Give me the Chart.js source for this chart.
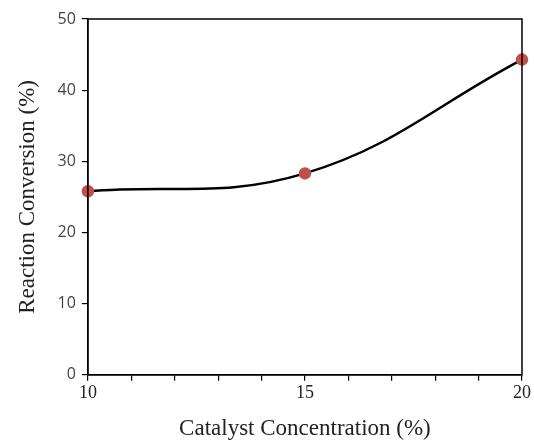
<!DOCTYPE html>
<html>
<head>
<meta charset="utf-8">
<script src="https://cdn.jsdelivr.net/npm/chart.js@4"></script>
<style>
  html, body { margin: 0; padding: 0; background: #fff; }
  #wrap { width: 534px; height: 443px; }
</style>
</head>
<body>
<div id="wrap"><canvas id="conversionChart"></canvas></div>
<script>
// data
const catalystConc = [10, 15, 20];
const conversion = [25.8, 28.3, 44.3];
const xLabelTicks = [10, 15, 20];

// thin box round the plot area, like the original
const frameBox = {
  id: 'frameBox',
  afterDraw(chart) {
    const { ctx, chartArea } = chart;
    ctx.save();
    ctx.strokeStyle = '#000';
    ctx.lineWidth = 1.5;
    ctx.strokeRect(chartArea.left, chartArea.top, chartArea.right - chartArea.left, chartArea.bottom - chartArea.top);
    ctx.restore();
  }
};

new Chart(document.getElementById('conversionChart'), {
  type: 'scatter',
  data: {
    datasets: [{
      data: catalystConc.map((x, i) => ({ x: x, y: conversion[i] })),
      showLine: true,
      borderColor: '#000',
      borderWidth: 2.5,
      tension: 0.4,
      pointBackgroundColor: '#C0504D',
      pointBorderColor: '#C0504D',
      pointRadius: 5,
      clip: false
    }]
  },
  options: {
    responsive: true,
    maintainAspectRatio: false,
    animation: false,
    layout: { padding: { top: 19, right: 12, left: 10, bottom: 0 } },
    plugins: { legend: { display: false }, tooltip: { enabled: false } },
    scales: {
      x: {
        type: 'linear',
        min: 10,
        max: 20,
        grid: { drawOnChartArea: false, color: '#000', tickLength: 6, lineWidth: 1.2 },
        border: { color: '#000', width: 1.5 },
        ticks: {
          stepSize: 1,
          autoSkip: false,
          maxRotation: 0,
          color: '#222',
          font: { family: 'Liberation Serif', size: 18 },
          padding: 2,
          callback: v => xLabelTicks.includes(v) ? String(v) : ''
        },
        title: {
          display: true,
          text: 'Catalyst Concentration (%)',
          color: '#222',
          font: { family: 'Liberation Serif', size: 23 },
          padding: { top: 9, bottom: 0 }
        }
      },
      y: {
        min: 0,
        max: 50,
        grid: { drawOnChartArea: false, color: '#000', tickLength: 6, lineWidth: 1.2 },
        border: { color: '#000', width: 1.5 },
        ticks: {
          stepSize: 10,
          color: '#444',
          font: { family: 'Open Sans', size: 16 },
          padding: 6
        },
        title: {
          display: true,
          text: 'Reaction Conversion (%)',
          color: '#222',
          font: { family: 'Liberation Serif', size: 23 },
          padding: { bottom: 10 }
        }
      }
    }
  },
  plugins: [frameBox]
});
</script>
</body>
</html>
